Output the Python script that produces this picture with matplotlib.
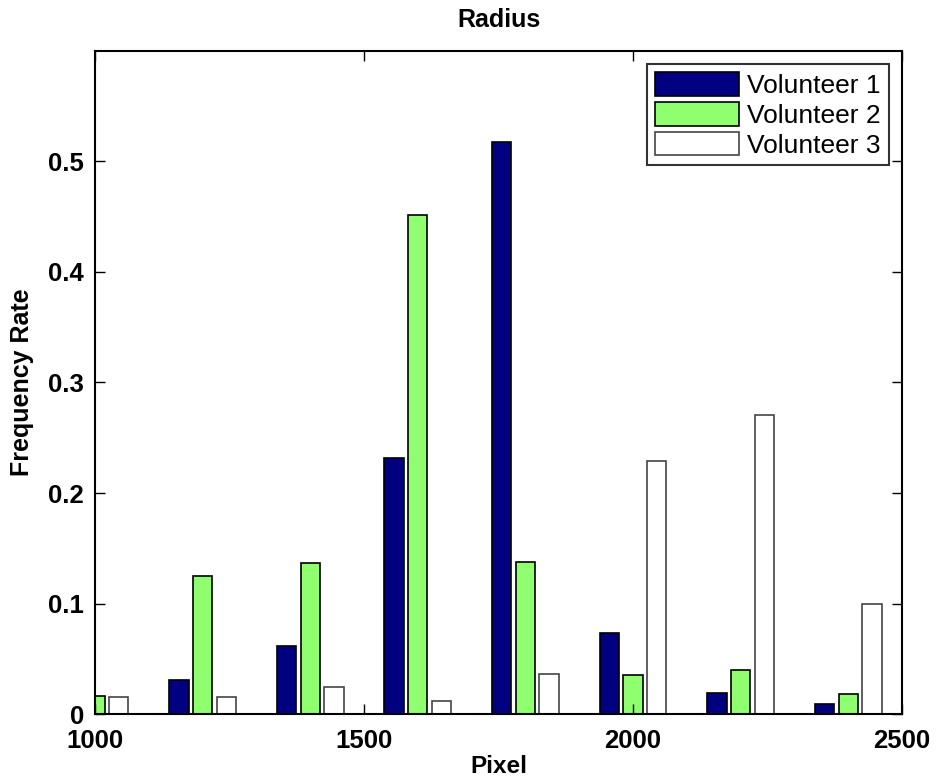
import matplotlib.pyplot as plt
import numpy as np

plt.rcParams['font.family'] = ['Liberation Sans', 'DejaVu Sans']

# bin centres (pixel) and frequency rate per volunteer
centres = [1000, 1200, 1400, 1600, 1800, 2000, 2200, 2400]
vol1 = [0.0, 0.031, 0.062, 0.232, 0.518, 0.073, 0.019, 0.0095]
vol2 = [0.016, 0.125, 0.137, 0.452, 0.138, 0.0355, 0.040, 0.018]
vol3 = [0.0155, 0.0155, 0.024, 0.012, 0.036, 0.229, 0.271, 0.100]
names = ['Volunteer 1', 'Volunteer 2', 'Volunteer 3']
colores = ['#000080', '#8fff70', '#ffffff']
bordes = ['black', 'black', '#444444']

fig = plt.figure(figsize=(9.36, 7.83), dpi=100)
ax = fig.add_axes([0.1015, 0.0881, 0.8622, 0.8468])

x = np.array(centres)
offset = 44
ancho = 36
for i, serie in enumerate([vol1, vol2, vol3]):
    ax.bar(x + (i - 1) * offset, serie, width=ancho, color=colores[i],
           edgecolor=bordes[i], linewidth=1.2, label=names[i])

ax.set_xlim(1000, 2500)
ax.set_ylim(0, 0.6)
ax.set_xticks([1000, 1500, 2000, 2500])
ax.set_yticks([0, 0.1, 0.2, 0.3, 0.4, 0.5])
ax.set_yticklabels(['0', '0.1', '0.2', '0.3', '0.4', '0.5'])
ax.tick_params(direction='in', top=True, right=True, length=7, width=1,
               labelsize=18.5)
ax.tick_params(axis='x', pad=11)
ax.tick_params(axis='y', pad=8)
for lab in ax.get_xticklabels() + ax.get_yticklabels():
    lab.set_fontweight('bold')
for s in ax.spines.values():
    s.set_linewidth(1.5)

ax.set_xlabel('Pixel', fontsize=17.5, fontweight='bold', labelpad=1)
ax.set_ylabel('Frequency Rate', fontsize=18, fontweight='bold', labelpad=10)
ax.set_title('Radius', fontsize=18, fontweight='bold', pad=17)

leg = ax.legend(loc='upper right', fontsize=19, frameon=True, fancybox=False,
                borderaxespad=0.5, handlelength=3.2, handleheight=1.0,
                labelspacing=0.15, borderpad=0.3, handletextpad=0.3)
leg.get_frame().set_edgecolor('black')
leg.get_frame().set_linewidth(1.5)

plt.savefig('out.png', dpi=100)
